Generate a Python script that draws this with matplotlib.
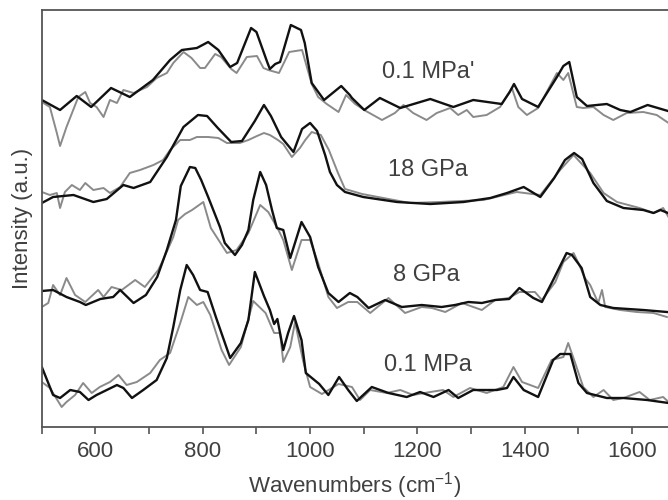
import numpy as np
import matplotlib
matplotlib.use("Agg")
import matplotlib.pyplot as plt

plt.rcParams['font.family'] = ['Liberation Sans', 'DejaVu Sans']
plt.rcParams['mathtext.default'] = 'regular'

# 0.1 MPa' (top pair)
wn_1k = [500, 534, 565, 592, 629, 664, 707, 739, 761, 789, 810, 829, 851, 864, 890, 900, 920, 925, 935, 944,
         964, 983, 990, 1003, 1026, 1058, 1074, 1078, 1101, 1130, 1168, 1224, 1267, 1304, 1357, 1372, 1380, 1395,
         1425, 1460, 1472, 1483, 1497, 1516, 1553, 1578, 1597, 1629, 1667]
int_1k = [327, 317, 331, 320, 339, 330, 347, 367, 377, 379, 385, 377, 360, 364, 399, 395, 365, 358, 363, 365,
          402, 397, 384, 344, 327, 341, 332, 329, 317, 329, 319, 328, 320, 327, 323, 335, 343, 328,
          320, 350, 361, 365, 330, 321, 323, 317, 315, 322, 316]
wn_1g = [500, 515, 528, 534, 546, 568, 581, 590, 602, 615, 627, 640, 652, 671, 696, 714, 733, 745, 764, 779,
         795, 804, 823, 834, 853, 863, 882, 901, 913, 922, 942, 961, 985, 1003, 1015, 1031, 1053, 1067, 1084, 1104,
         1134, 1158, 1174, 1192, 1217, 1236, 1261, 1276, 1292, 1304, 1329, 1354, 1376, 1388, 1404, 1425, 1460,
         1472, 1481, 1497, 1509, 1528, 1547, 1565, 1590, 1621, 1646, 1668]
int_1g = [325, 320, 294, 281, 300, 330, 335, 324, 320, 310, 327, 324, 337, 334, 340, 349, 354, 364, 375, 369,
          359, 359, 373, 370, 358, 354, 370, 371, 359, 357, 354, 375, 377, 343, 330, 323, 315, 332, 323, 316,
          307, 314, 322, 314, 307, 314, 319, 312, 317, 310, 312, 320, 339, 320, 312, 319, 354,
          347, 354, 320, 319, 320, 312, 307, 314, 315, 312, 304]

# 18 GPa
wn_2k = [500, 521, 559, 596, 621, 652, 671, 702, 733, 764, 791, 808, 828, 853, 873, 897, 914, 927, 946, 969,
         985, 1000, 1013, 1028, 1037, 1050, 1065, 1099, 1162, 1224, 1286, 1336, 1367, 1398, 1429, 1455, 1475,
         1492, 1507, 1528, 1553, 1584, 1621, 1640, 1653, 1667]
int_2k = [224, 230, 232, 225, 228, 242, 239, 245, 270, 300, 312, 311, 299, 285, 286, 306, 322, 311, 290, 275,
          298, 304, 296, 272, 255, 242, 235, 230, 225, 223, 225, 229, 234, 240, 230, 249, 267,
          274, 268, 244, 226, 219, 217, 214, 217, 214]
wn_2g = [500, 515, 528, 534, 543, 556, 571, 581, 596, 615, 627, 646, 664, 683, 708, 726, 739, 758, 776, 789,
         810, 829, 845, 869, 885, 901, 914, 925, 940, 950, 966, 981, 991, 1003, 1020, 1035, 1052, 1065, 1097, 1186,
         1242, 1323, 1385, 1429, 1466, 1491, 1522, 1547, 1572, 1614, 1640, 1658, 1668]
int_2g = [235, 232, 234, 219, 235, 242, 237, 244, 237, 239, 234, 240, 254, 257, 262, 267, 277, 287, 287, 290,
          290, 289, 284, 284, 287, 291, 294, 292, 287, 283, 270, 279, 287, 295, 292, 277, 254, 238, 233, 224,
          225, 227, 235, 232, 257, 272, 254, 234, 225, 219, 214, 219, 210]

# 8 GPa
wn_3k = [500, 521, 546, 571, 582, 609, 633, 646, 671, 694, 715, 733, 750, 759, 776, 786, 797, 810, 832, 841,
         860, 873, 885, 894, 907, 918, 929, 938, 950, 963, 984, 1000, 1015, 1034, 1053, 1074, 1088, 1109, 1140, 1171,
         1208, 1245, 1270, 1295, 1320, 1345, 1371, 1390, 1416, 1432, 1453, 1478, 1488, 1506, 1522, 1541, 1565,
         1621, 1665]
int_3k = [136, 137, 130, 125, 122, 128, 130, 137, 124, 132, 150, 177, 207, 241, 260, 259, 247, 230, 200, 184,
          172, 182, 197, 227, 255, 242, 217, 199, 197, 169, 205, 190, 160, 134, 125, 134, 130, 119, 127, 120,
          122, 120, 122, 125, 124, 127, 128, 139, 129, 125, 147, 174, 172, 159, 130, 122, 119,
          117, 115]
wn_3g = [500, 512, 521, 534, 546, 562, 581, 605, 615, 630, 649, 674, 692, 717, 726, 745, 754, 767, 780, 801,
         815, 845, 863, 885, 907, 922, 941, 950, 966, 984, 1000, 1015, 1034, 1050, 1071, 1088, 1112, 1146, 1177, 1208,
         1227, 1252, 1283, 1320, 1345, 1370, 1390, 1419, 1432, 1457, 1472, 1491, 1500, 1512, 1522, 1537, 1544,
         1550, 1578, 1609, 1640, 1665]
int_3g = [120, 124, 142, 132, 149, 132, 125, 137, 130, 140, 137, 147, 140, 157, 167, 190, 207, 213, 217, 225,
          199, 174, 177, 194, 222, 215, 197, 187, 157, 187, 187, 164, 130, 119, 125, 125, 114, 129, 114, 120,
          119, 115, 124, 117, 127, 129, 135, 135, 127, 145, 165, 174, 164, 149, 142, 124, 137,
          120, 117, 115, 114, 110]

# 0.1 MPa (bottom pair)
wn_4k = [500, 521, 534, 553, 571, 587, 602, 621, 640, 652, 668, 689, 714, 733, 745, 758, 770, 782, 795, 809,
         825, 851, 871, 885, 897, 914, 925, 933, 939, 950, 959, 970, 984, 992, 1017, 1034, 1054, 1071, 1087, 1115,
         1146, 1180, 1205, 1230, 1258, 1276, 1304, 1348, 1367, 1379, 1398, 1425, 1453, 1466, 1485, 1500, 1516,
         1553, 1584, 1628, 1668]
int_4k = [60, 32, 29, 37, 35, 27, 32, 37, 42, 39, 29, 37, 47, 69, 100, 137, 162, 152, 137, 135,
          109, 69, 84, 107, 155, 131, 117, 103, 108, 77, 94, 111, 87, 54, 43, 32, 50, 37, 26, 40,
          34, 30, 35, 30, 37, 29, 37, 37, 39, 50, 37, 30, 67, 73, 73, 44, 34,
          29, 29, 27, 24]
wn_4g = [500, 515, 537, 546, 562, 577, 593, 608, 627, 643, 658, 677, 702, 720, 739, 758, 773, 789, 801, 814,
         835, 849, 871, 894, 917, 933, 944, 950, 963, 972, 987, 1000, 1022, 1053, 1078, 1093, 1112, 1143, 1168, 1192,
         1224, 1248, 1267, 1298, 1329, 1360, 1379, 1395, 1425, 1450, 1472, 1481, 1494, 1509, 1528, 1547, 1565,
         1584, 1614, 1633, 1658, 1668]
int_4g = [45, 39, 20, 25, 32, 44, 34, 40, 45, 52, 42, 45, 54, 67, 74, 104, 130, 122, 125, 112,
          77, 62, 80, 126, 114, 94, 94, 65, 80, 105, 66, 40, 33, 43, 40, 27, 37, 34, 37, 32,
          35, 37, 30, 39, 34, 40, 60, 45, 39, 67, 70, 84, 64, 40, 30, 37, 27,
          29, 35, 27, 30, 25]

labels = ["0.1 MPa'", "18 GPa", "8 GPa", "0.1 MPa"]
label_wn = [1220, 1219, 1216, 1219]
label_int = [355, 257, 152, 62]

spectra = [(wn_1g, int_1g, wn_1k, int_1k), (wn_2g, int_2g, wn_2k, int_2k),
           (wn_3g, int_3g, wn_3k, int_3k), (wn_4g, int_4g, wn_4k, int_4k)]

fig = plt.figure(figsize=(6.68, 5), dpi=100)
ax = fig.add_axes([0.0626, 0.146, 0.9374, 0.834])

for wg, ig, wk, ik in spectra:
    ax.plot(wg, ig, color='#8a8a8a', linewidth=1.4, solid_joinstyle='round')
    ax.plot(wk, ik, color='#111111', linewidth=1.7, solid_joinstyle='round')

for t, x, y in zip(labels, label_wn, label_int):
    ax.text(x, y, t, fontsize=17, color='#404040', ha='center', va='center')

ax.set_xlim(500, 1667)
ax.set_ylim(0, 417)
ax.set_xticks(np.arange(600, 1700, 200))
ax.set_xticks(np.arange(500, 1700, 100), minor=True)
ax.set_yticks([])
ax.tick_params(axis='x', which='both', direction='out', length=5, width=1.2, colors='#555555',
               labelsize=16, labelcolor='#404040', pad=5)
for s in ['left', 'bottom', 'top']:
    ax.spines[s].set_color('#555555')
    ax.spines[s].set_linewidth(1.3)
ax.spines['right'].set_visible(False)

ax.set_xlabel('Wavenumbers (cm$^{-1}$)', fontsize=16, color='#404040', labelpad=6)
ax.set_ylabel('Intensity (a.u.)', fontsize=16, color='#404040', labelpad=6)

fig.savefig('out.png', dpi=100)
